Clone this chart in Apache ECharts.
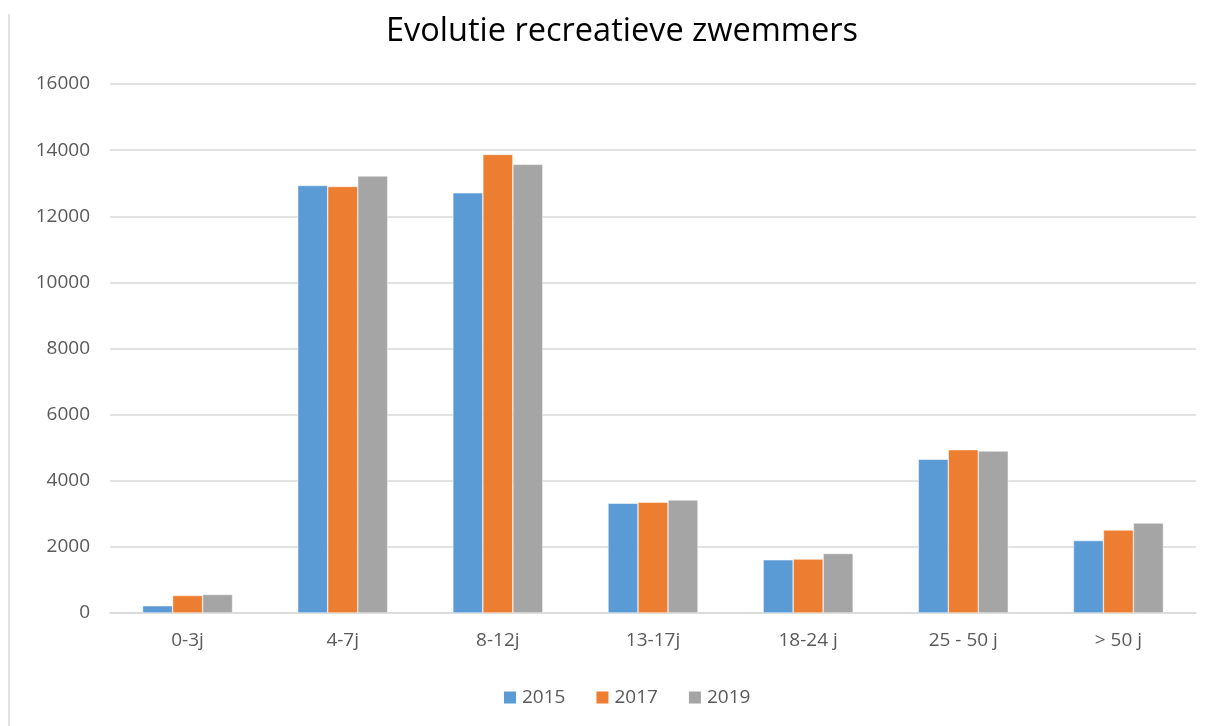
<!DOCTYPE html>
<html>
<head>
<meta charset="utf-8">
<script src="https://cdn.jsdelivr.net/npm/echarts@6/dist/echarts.min.js"></script>
<style>
  html, body { margin: 0; padding: 0; background: #fff; }
  #chart { width: 1212px; height: 726px; }
</style>
</head>
<body>
<div id="chart"></div>
<script>
var categories = ["0-3j", "4-7j", "8-12j", "13-17j", "18-24 j", "25 - 50 j", "> 50 j"];
var years = ["2015", "2017", "2019"];
var values2015 = [220, 12930, 12710, 3320, 1610, 4650, 2190];
var values2017 = [530, 12900, 13870, 3350, 1630, 4940, 2510];
var values2019 = [560, 13220, 13570, 3420, 1800, 4900, 2720];
var yTicks = [0, 2000, 4000, 6000, 8000, 10000, 12000, 14000, 16000];
var colors = ["#5b9bd5", "#ed7d31", "#a5a5a5"];

var myChart = echarts.init(document.getElementById("chart"));
var font = "'Open Sans', 'Liberation Sans', sans-serif";
var seriesData = [values2015, values2017, values2019];

var option = {
  animation: false,
  textStyle: { fontFamily: font },
  title: {
    text: "Evolutie recreatieve zwemmers",
    left: 381,
    top: 10,
    textStyle: { fontSize: 32.5, fontWeight: "normal", color: "#000", fontFamily: font },
  },
  graphic: [
    {
      type: "line",
      shape: { x1: 9, y1: 14, x2: 9, y2: 726 },
      style: { stroke: "#d9d9d9", lineWidth: 1.5 },
    },
  ],
  legend: {
    bottom: 14,
    left: 497,
    itemWidth: 14,
    itemHeight: 14,
    itemGap: 29,
    icon: "rect",
    textStyle: { fontSize: 19, color: "#595959", fontFamily: font },
    data: years,
  },
  grid: {
    left: 110,
    right: 16,
    top: 84,
    bottom: 113,
  },
  xAxis: {
    type: "category",
    data: categories,
    axisLine: { lineStyle: { color: "#d9d9d9", width: 1.5 } },
    axisTick: { show: false },
    axisLabel: { fontSize: 19, color: "#595959", margin: 18 },
  },
  yAxis: {
    type: "value",
    min: yTicks[0],
    max: yTicks[yTicks.length - 1],
    interval: 2000,
    axisLine: { show: false },
    axisTick: { show: false },
    axisLabel: {
      fontSize: 19,
      color: "#595959",
      margin: 20,
      formatter: function (v) { return String(v); },
    },
    splitLine: { lineStyle: { color: "#d9d9d9", width: 1.5 } },
  },
  series: years.map(function (y, i) {
    return {
      name: y,
      type: "bar",
      data: seriesData[i],
      barWidth: 30,
      barGap: "0%",
      itemStyle: { color: colors[i], borderColor: "#fff", borderWidth: 0.5 },
    };
  }),
};

myChart.setOption(option);
</script>
</body>
</html>
